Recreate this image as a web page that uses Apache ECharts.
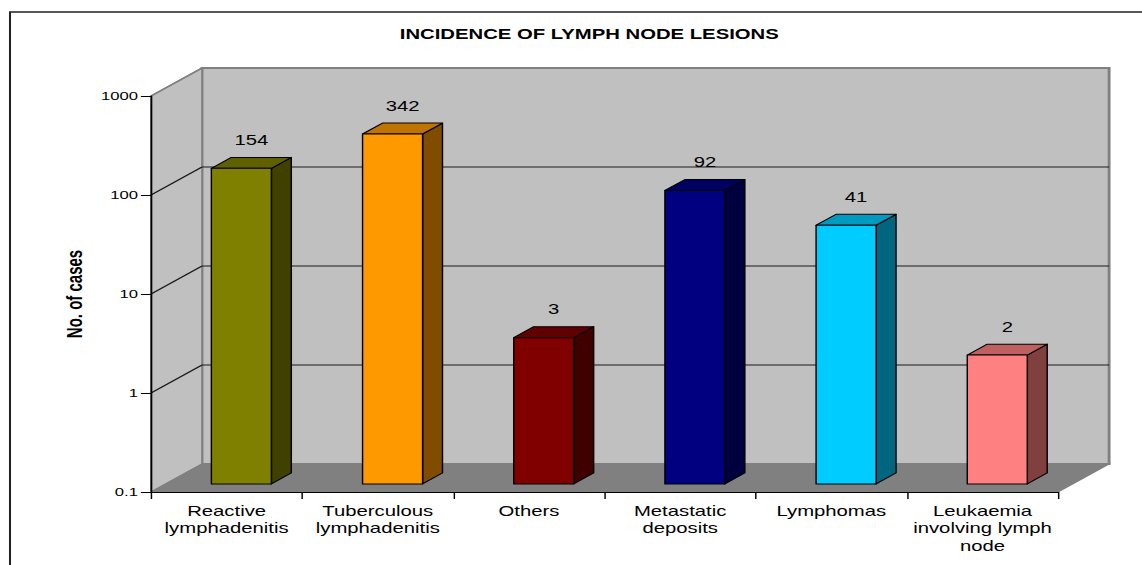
<!DOCTYPE html>
<html>
<head>
<meta charset="utf-8">
<script src="https://cdn.jsdelivr.net/npm/echarts@6/dist/echarts.min.js"></script>
<style>
  html, body { margin: 0; padding: 0; background: #fff; overflow: hidden; }
  #wrap { width: 1142px; height: 565px; overflow: hidden; }
  #main { width: 788px; height: 565px; transform: scaleX(1.44924); transform-origin: 0 0; }
</style>
</head>
<body>
<div id="wrap"><div id="main"></div></div>
<script>
// ---- data ----
const categories = [
  'Reactive\nlymphadenitis',
  'Tuberculous\nlymphadenitis',
  'Others',
  'Metastatic\ndeposits',
  'Lymphomas',
  'Leukaemia\ninvolving lymph\nnode'
];
const cases = [154, 342, 3, 92, 41, 2];
const yTickValues = [0.1, 1, 10, 100, 1000];
const yTickLabels = ['0.1', '1', '10', '100', '1000'];
const frontColors = ['#808000', '#FF9900', '#800000', '#000080', '#00CCFF', '#FF8080'];
const topColors   = ['#606000', '#BF7300', '#600000', '#000060', '#0099BF', '#BF6060'];
const sideColors  = ['#404000', '#804D00', '#400000', '#000040', '#006680', '#804040'];

// ---- 3D look constants ----
const DX = 35.2, DY = -28;     // depth vector (back wall offset)
const F0 = 0.29, F1 = 0.68;    // bar front / back depth fractions
const BAR_FRAC = 0.397;        // bar width relative to category band
const FONT = "'Liberation Sans', Arial, sans-serif";

const chart = echarts.init(document.getElementById('main'), null, { renderer: 'svg' });

function renderWalls(params, api) {
  const cs = params.coordSys;
  const x0 = cs.x, x1 = cs.x + cs.width;
  const yTop = cs.y, yBot = cs.y + cs.height;
  const children = [];
  // back wall
  children.push({ type: 'rect', shape: { x: x0 + DX, y: yTop + DY, width: cs.width, height: cs.height },
    style: { fill: '#C0C0C0', stroke: '#808080', lineWidth: 2 } });
  // left wall
  children.push({ type: 'polygon', shape: { points: [[x0, yTop], [x0 + DX, yTop + DY], [x0 + DX, yBot + DY], [x0, yBot]] },
    style: { fill: '#C0C0C0', stroke: '#808080', lineWidth: 1.2 } });
  // floor
  children.push({ type: 'polygon', shape: { points: [[x0, yBot], [x1, yBot], [x1 + DX, yBot + DY], [x0 + DX, yBot + DY]] },
    style: { fill: '#808080', stroke: '#808080', lineWidth: 1 } });
  // gridlines
  yTickValues.forEach(function (t, i) {
    if (i === 0) return;
    const y = api.coord([0, t])[1];
    const last = i === yTickValues.length - 1;
    const col = last ? '#808080' : '#1a1a1a';
    children.push({ type: 'line', shape: { x1: x0, y1: y, x2: x0 + DX, y2: y + DY },
      style: { stroke: col, lineWidth: last ? 1.5 : 1 } });
    if (!last) {
      children.push({ type: 'line', shape: { x1: x0 + DX, y1: y + DY, x2: x1 + DX, y2: y + DY },
        style: { stroke: col, lineWidth: 1 } });
    }
  });
  return { type: 'group', children: children };
}

function renderBar(params, api) {
  const idx = api.value(0);
  const val = api.value(1);
  const cs = params.coordSys;
  const band = cs.width / categories.length;
  const hw = band * BAR_FRAC / 2;
  const pTop = api.coord([idx, val]);
  const pBot = api.coord([idx, yTickValues[0]]);
  const cx = pTop[0];
  const xL0 = cx - hw + F0 * DX, xR0 = cx + hw + F0 * DX;
  const yT0 = pTop[1] + F0 * DY, yB0 = pBot[1] + F0 * DY;
  const ddx = (F1 - F0) * DX, ddy = (F1 - F0) * DY;
  const i = params.dataIndex;
  const st = { stroke: '#000', lineWidth: 1, lineJoin: 'round' };
  return {
    type: 'group',
    children: [
      { type: 'polygon', shape: { points: [[xR0, yT0], [xR0 + ddx, yT0 + ddy], [xR0 + ddx, yB0 + ddy], [xR0, yB0]] },
        style: Object.assign({ fill: sideColors[i] }, st) },
      { type: 'polygon', shape: { points: [[xL0, yT0], [xR0, yT0], [xR0 + ddx, yT0 + ddy], [xL0 + ddx, yT0 + ddy]] },
        style: Object.assign({ fill: topColors[i] }, st) },
      { type: 'rect', shape: { x: xL0, y: yT0, width: xR0 - xL0, height: yB0 - yT0 },
        style: Object.assign({ fill: frontColors[i] }, st) },
      { type: 'text', x: (xL0 + xR0) / 2 + 6.9, y: yT0 - 28,
        style: { text: String(val), fill: '#000', font: '14px ' + FONT, align: 'center', verticalAlign: 'middle' } }
    ]
  };
}

const option = {
  animation: false,
  backgroundColor: '#ffffff',
  title: {
    text: 'INCIDENCE OF LYMPH NODE LESIONS',
    left: 401.6, top: 22, textAlign: 'center',
    textStyle: { fontFamily: FONT, fontSize: 14, fontWeight: 'bold', color: '#000' }
  },
  graphic: [{
    type: 'rect', z: -10, silent: true,
    shape: { x: 6.9, y: 12, width: 2000, height: 2000 },
    style: { fill: 'none', stroke: '#222', lineWidth: 1.4 }
  }],
  grid: { left: 104.2, right: 57.9, top: 96, bottom: 73, containLabel: false },
  xAxis: {
    type: 'category', data: categories, z: 10,
    axisLine: { show: true, lineStyle: { color: '#000', width: 1.2 } },
    axisTick: { show: true, length: 7, lineStyle: { color: '#000', width: 1 } },
    axisLabel: { interval: 0, margin: 10, color: '#000', fontFamily: FONT, fontSize: 14, lineHeight: 17.5 },
    splitLine: { show: false }
  },
  yAxis: {
    type: 'log', logBase: 10, min: 0.1, max: 1000, splitNumber: 4, z: 10,
    name: 'No. of cases', nameLocation: 'middle', nameRotate: 90, nameGap: 45,
    nameTextStyle: { fontFamily: FONT, fontSize: 15, fontWeight: 'bold', color: '#000' },
    axisLine: { show: true, lineStyle: { color: '#000', width: 1.2 } },
    axisTick: { show: true, length: 7, lineStyle: { color: '#000', width: 1 } },
    axisLabel: {
      margin: 9, color: '#000', fontFamily: FONT, fontSize: 11.5,
      formatter: function (v) {
        let best = 0, bd = Infinity;
        yTickValues.forEach(function (t, k) {
          const d = Math.abs(Math.log10(t) - Math.log10(v));
          if (d < bd) { bd = d; best = k; }
        });
        return yTickLabels[best];
      }
    },
    splitLine: { show: false }
  },
  series: [
    { type: 'custom', z: 1, silent: true, renderItem: renderWalls, data: [[0, 1]] },
    { type: 'custom', z: 2, renderItem: renderBar, data: cases.map(function (v, i) { return [i, v]; }) }
  ]
};
chart.setOption(option);
</script>
</body>
</html>
